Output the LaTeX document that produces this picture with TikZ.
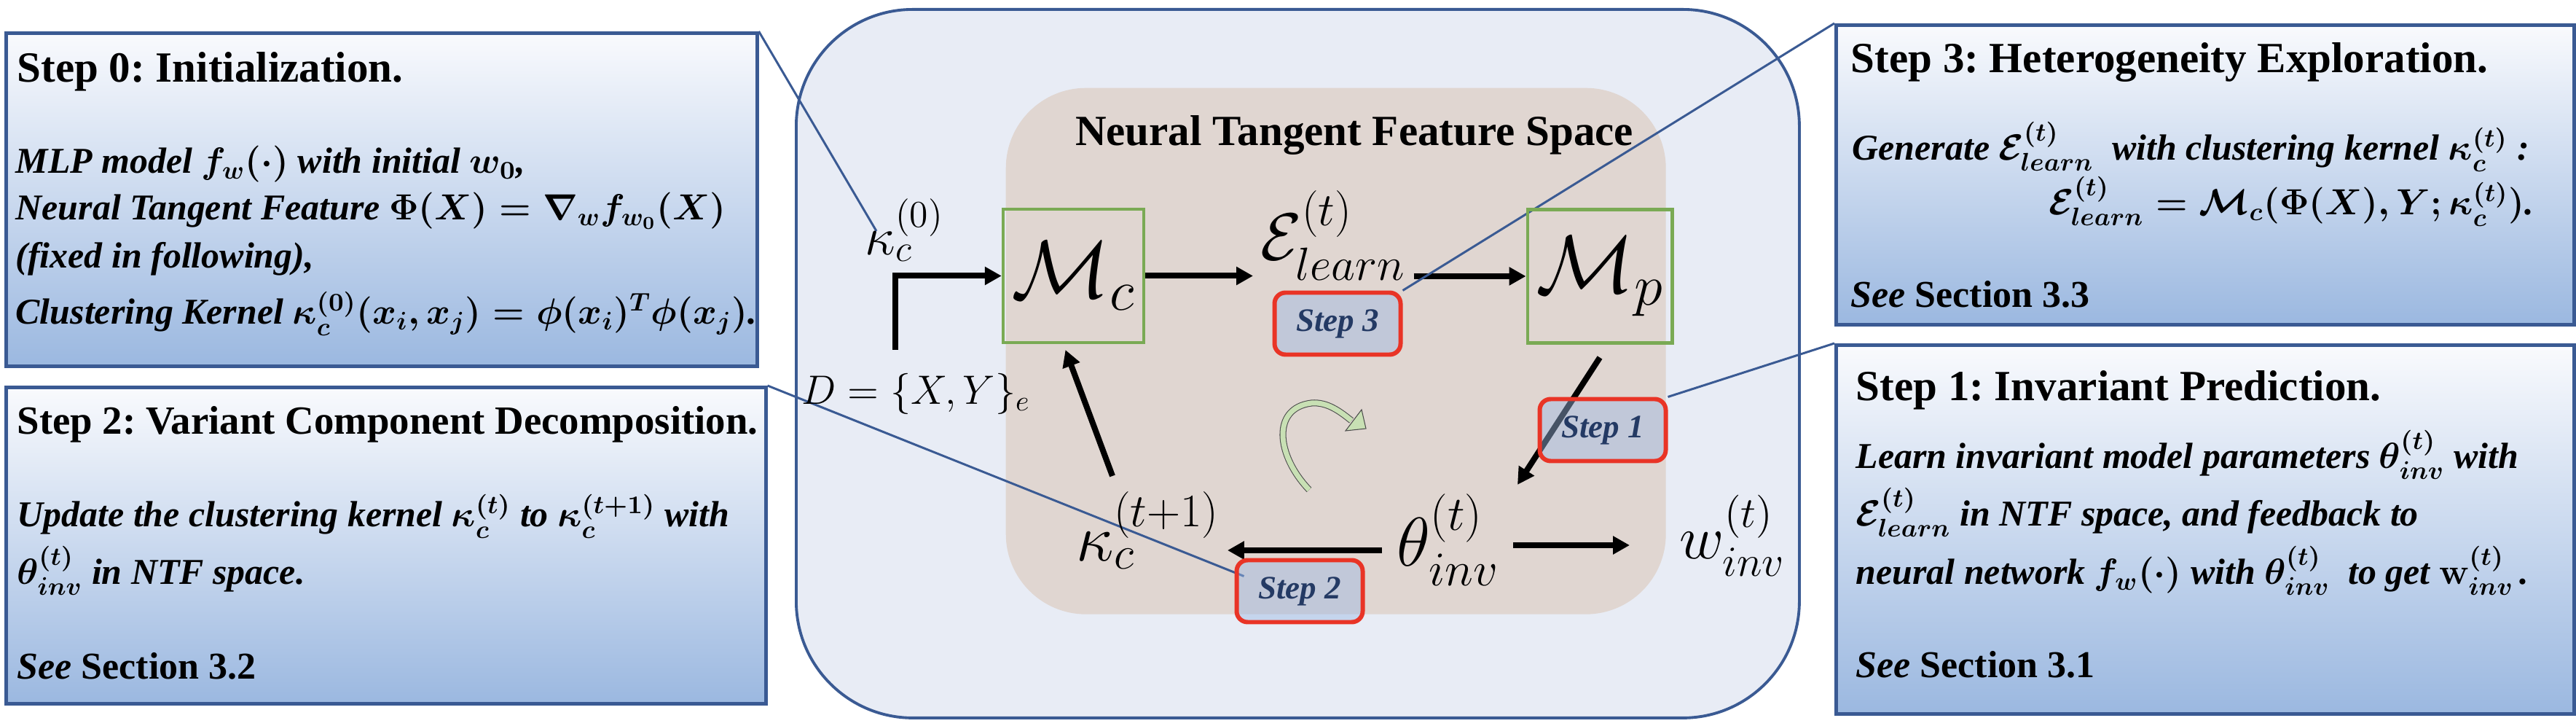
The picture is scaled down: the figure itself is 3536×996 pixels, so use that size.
\documentclass[tikz,border=0pt]{standalone}
\usepackage{fix-cm}
\usepackage{amsmath}
\usepackage{amssymb}
\usepackage{fontspec}
\setmainfont{Liberation Serif}
\usepackage{tikz}
\usetikzlibrary{shapes.geometric, arrows.meta, calc}

\definecolor{boxline}{RGB}{58,90,147}
\definecolor{boxtop}{RGB}{249,250,253}
\definecolor{boxbottom}{RGB}{155,184,224}
\definecolor{outerfill}{RGB}{232,236,245}
\definecolor{ntffill}{RGB}{224,214,209}
\definecolor{mgreen}{RGB}{122,170,84}
\definecolor{tagred}{RGB}{233,52,38}
\definecolor{tagfill}{RGB}{156,185,228}
\definecolor{tagtext}{RGB}{36,58,100}
\definecolor{loopgreen}{RGB}{200,224,180}

\pgfdeclarelayer{back}
\pgfdeclarelayer{mid}
\pgfsetlayers{back,mid,main}

\frenchspacing

\begin{document}
\begin{tikzpicture}[x=0.1mm, y=-0.1mm]
		\tikzstyle{stepbox} = [rectangle, draw=boxline, line width=1.3pt, top color=boxtop, bottom color=boxbottom, anchor=north west, inner sep=0]
		
		\tikzstyle{steptitle} = [anchor=base west, inner sep=0, font=\fontsize{16.8}{20}\selectfont\bfseries]
		\tikzstyle{stepbody} = [anchor=base west, inner sep=0, font=\fontsize{14.2}{17}\selectfont\bfseries\itshape\boldmath]
		\tikzstyle{seesec} = [anchor=base west, inner sep=0, font=\fontsize{14.8}{17}\selectfont\bfseries]
		
		\tikzstyle{mbox} = [rectangle, draw=mgreen, line width=1.15pt, minimum width=17.9mm, minimum height=18.3mm, font=\fontsize{32}{34}\selectfont]
		\tikzstyle{tag} = [rectangle, rounded corners=1.5mm, draw=tagred, line width=1.7pt, fill=tagfill, fill opacity=0.45, text opacity=1, text=tagtext, minimum width=17.3mm, minimum height=8.5mm, font=\fontsize{12.8}{14}\selectfont\bfseries\itshape]
		\tikzstyle{mathlabel} = [anchor=base west, inner sep=1mm]
		
		\tikzstyle{link} = [draw=boxline, line width=0.85pt]
		\tikzstyle{arrow} = [line width=2.28pt, -{Triangle[length=2.3mm, width=2.4mm]}]
		
		\useasboundingbox (0,0) rectangle (3536,996);
		
		% Frames in the back
		\begin{pgfonlayer}{back}
		\node (outer) [rectangle, rounded corners=16mm, draw=boxline, line width=1.1pt, fill=outerfill, anchor=north west, minimum width=137.7mm, minimum height=97.2mm, inner sep=0] at (1091,11) {};
		\node (ntf) [rectangle, rounded corners=11mm, fill=ntffill, anchor=north west, minimum width=90.6mm, minimum height=72.2mm, inner sep=0] at (1380,120) {};
		
		\node (step0) [stepbox, minimum width=103.1mm, minimum height=45.7mm] at (6,43) {};
		\node (step2) [stepbox, minimum width=104.3mm, minimum height=43.4mm] at (6,529) {};
		\node (step3) [stepbox, minimum width=101.3mm, minimum height=41.1mm] at (2518,32) {};
		\node (step1) [stepbox, minimum width=101.3mm, minimum height=50.6mm] at (2518,471) {};
		\end{pgfonlayer}
		
		% Step 0 text
		\node (s0title) [steptitle] at (23,113) {Step 0: Initialization.};
		\node (s0a) [stepbody] at (21,238) {MLP model $f_w(\cdot)$ with initial $w_0$,};
		\node (s0b) [stepbody] at (21,302) {Neural Tangent Feature $\Phi(X)=\nabla_w f_{w_0}(X)$};
		\node (s0c) [stepbody] at (21,368) {(fixed in following),};
		\node (s0d) [stepbody] at (21,445) {Clustering Kernel $\kappa_c^{(0)}(x_i,x_j)=\phi(x_i)^T\phi(x_j)$.};
		
		% Step 2 text
		\node (s2title) [steptitle, font=\fontsize{15.6}{18}\selectfont\bfseries] at (23,596) {Step 2: Variant Component Decomposition.};
		\node (s2a) [stepbody] at (23,723) {Update the clustering kernel $\kappa_c^{(t)}$ to $\kappa_c^{(t+1)}$ with};
		\node (s2b) [stepbody] at (23,802) {$\theta_{inv}^{(t)}$ in NTF space.};
		\node (s2see) [seesec] at (23,932) {\textit{See} Section 3.2};
		
		% Step 3 text
		\node (s3title) [steptitle] at (2540,100) {Step 3: Heterogeneity Exploration.};
		\node (s3a) [stepbody] at (2542,220) {Generate $\mathcal{E}_{learn}^{(t)}$ \ with clustering kernel $\kappa_c^{(t)}$ :};
		\node (s3b) [stepbody] at (2812,295) {$\mathcal{E}_{learn}^{(t)}=\mathcal{M}_c(\Phi(X),Y;\kappa_c^{(t)})$.};
		\node (s3see) [seesec] at (2540,422) {\textit{See} Section 3.3};
		
		% Step 1 text
		\node (s1title) [steptitle] at (2547,550) {Step 1: Invariant Prediction.};
		\node (s1a) [stepbody] at (2547,643) {Learn invariant model parameters $\theta_{inv}^{(t)}$ with};
		\node (s1b) [stepbody] at (2547,722) {$\mathcal{E}_{learn}^{(t)}$ in NTF space, and feedback to};
		\node (s1c) [stepbody] at (2547,802) {neural network $f_w(\cdot)$ with $\theta_{inv}^{(t)}$ \ to get $\mathbf{w}_{inv}^{(t)}$\,.};
		\node (s1see) [seesec] at (2547,930) {\textit{See} Section 3.1};
		
		% Loop inside the feature space
		\node (ntftitle) [steptitle, anchor=base] at (1859,200) {Neural Tangent Feature Space};
		\node (mc) [mbox] at (1473.5,378.5) {$\mathcal{M}_c$};
		\node (mp) [mbox] at (2196,379) {$\mathcal{M}_p$};
		\node (k0) [mathlabel, font=\fontsize{21}{23}\selectfont] at (1177,350) {$\kappa_c^{(0)}$};
		\node (elearn) [mathlabel, font=\fontsize{26}{28}\selectfont] at (1720,357) {$\mathcal{E}_{learn}^{(t)}$};
		\node (kappa) [mathlabel, font=\fontsize{26}{28}\selectfont] at (1467,770) {$\kappa_c^{(t+1)}$};
		\node (theta) [mathlabel, font=\fontsize{27}{29}\selectfont] at (1907,777) {$\theta_{inv}^{(t)}$};
		\node (winv) [mathlabel, font=\fontsize{24}{26}\selectfont] at (2295,767) {$w_{inv}^{(t)}$};
		\node (data) [mathlabel, font=\fontsize{16}{18}\selectfont] at (1090,555) {$D=\{X,Y\}_e$};
		\coordinate (dstart) at (1229,480);
		\coordinate (thleft) at ($(theta.base west)+(-10,-22)$);
		\coordinate (thright) at ($(theta.base west)+(170,-29)$);
		
		% Step tags
		\node (s3tag) [tag] at (1836,444) {Step 3};
		\node (s1tag) [tag] at (2200,590) {Step 1};
		\node (s2tag) [tag] at (1784,811) {Step 2};
		
		% Arrows and links under the tags
		\begin{pgfonlayer}{mid}
		\draw [arrow] (dstart) |- (mc.west);
		\draw [arrow] (mc.east) -- (mc.east -| elearn.west);
		\draw [arrow] (elearn.east |- mp.west) -- (mp.west);
		\draw [arrow] ([yshift=-1.8mm]mp.south) -- ($(theta.base west)+(176,-112)$);
		\draw [arrow] (thleft) -- (thleft -| kappa.east);
		\draw [arrow] (thright) -- ($(winv.base west)+(-58,-19)$);
		\draw [arrow] ($(kappa.base west)+(60,-117)$) -- ($(mc.south)+(-11,8)$);
		
		\draw [link] (step0.north east) -- ($(k0.base west)+(26,-33)$);
		\draw [link] (step3.north west) -- (s3tag.north east);
		\draw [link] (step1.north west) -- (s1tag.north east);
		\draw [link] (step2.north east) -- ($(s2tag.north west)+(13,25)$);
		
		% turning arrow
		\draw [double=loopgreen, double distance=0.7mm, line width=0.3pt, draw=black!70] (1797,672) .. controls (1752,625) and (1745,560) .. (1800,553) .. controls (1822,551) and (1840,565) .. (1855,577);
		\filldraw [fill=loopgreen, draw=black!70, line width=0.3pt] (1847,591) -- (1869,562) -- (1875,588) -- cycle;
		\end{pgfonlayer}
\end{tikzpicture}
\end{document}
